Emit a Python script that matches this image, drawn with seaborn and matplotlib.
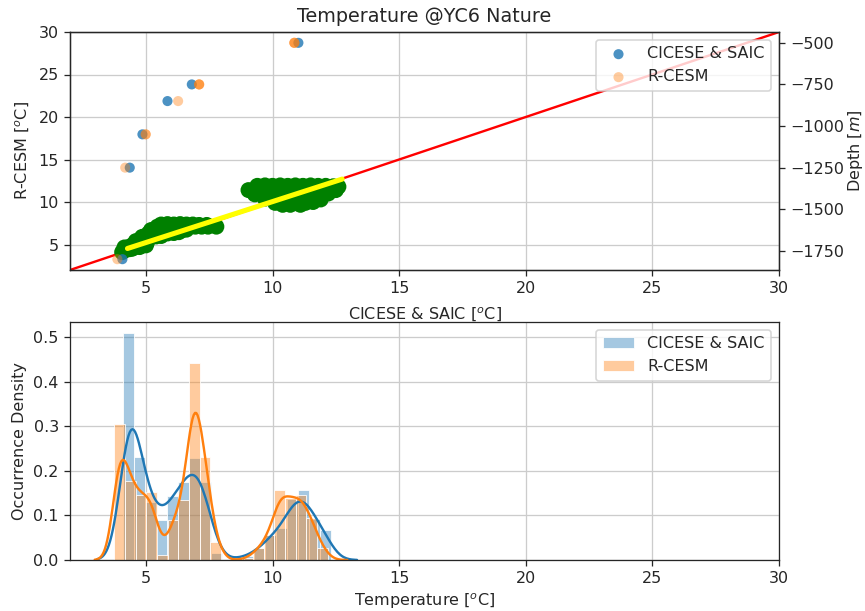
import numpy as np
import pandas as pd
import matplotlib
matplotlib.use("Agg")
import matplotlib.pyplot as plt
from matplotlib.ticker import MultipleLocator
import seaborn as sns

# ---------------- data ----------------
depth = [-500, -750, -850, -1050, -1250, -1800]
cicese_profile = [11.02, 6.81, 5.85, 4.86, 4.36, 4.07]
rcesm_profile = [10.86, 7.10, 6.27, 4.99, 4.18, 3.87]
rcesm_repeat = [3, 3, 1, 2, 1, 1]

# paired samples (green cloud), read row by row
pair_x = [
    # upper cluster
    9.4, 9.7, 10.0, 10.3, 10.6, 10.9, 11.2, 11.5, 11.8, 12.1, 12.4, 12.6,
    9.05, 9.35, 9.65, 9.95, 10.25, 10.55, 10.85, 11.15, 11.45, 11.75, 12.05, 12.3, 12.5,
    9.3, 9.6, 9.9, 10.2, 10.5, 10.8, 11.1, 11.4, 11.7, 12.0, 12.2,
    9.7, 10.0, 10.3, 10.6, 10.9, 11.2, 11.5, 11.9,
    10.1, 10.4, 10.7, 11.0, 11.3, 11.6,
    10.4, 10.7, 11.1,
    # lower cluster
    5.6, 5.85, 6.1, 6.35, 6.6, 6.85, 7.1, 7.4,
    5.45, 5.7, 5.95, 6.2, 6.45, 6.7, 6.95, 7.2, 7.45, 7.78,
    5.2, 5.45, 5.7, 5.95, 6.2, 6.45, 6.6,
    5.1, 5.35, 5.6, 5.85, 6.1, 6.3,
    5.0, 5.2, 5.4, 5.6,
    4.06, 4.2, 4.35, 4.35, 4.5, 4.5, 4.7, 4.7, 4.9, 4.9, 5.05, 5.05,
    4.15, 4.45, 4.75, 5.0, 4.85, 4.6,
]
pair_y = [
    11.9, 11.95, 11.9, 11.95, 11.9, 11.95, 11.9, 11.95, 11.9, 11.9, 11.85, 11.8,
    11.4, 11.4, 11.4, 11.4, 11.4, 11.4, 11.4, 11.4, 11.4, 11.4, 11.4, 11.4, 11.4,
    10.9, 10.9, 10.9, 10.9, 10.9, 10.9, 10.9, 10.9, 10.9, 10.9, 11.0,
    10.4, 10.4, 10.4, 10.4, 10.4, 10.4, 10.4, 10.3,
    9.9, 9.9, 9.9, 9.85, 9.9, 10.0,
    9.67, 9.67, 9.67,
    7.35, 7.4, 7.35, 7.4, 7.35, 7.35, 7.3, 7.3,
    7.1, 7.1, 7.1, 7.1, 7.1, 7.1, 7.1, 7.1, 7.1, 7.1,
    6.7, 6.7, 6.7, 6.7, 6.7, 6.7, 6.75,
    6.3, 6.3, 6.3, 6.3, 6.35, 6.45,
    5.95, 5.95, 5.95, 6.0,
    4.1, 4.35, 4.45, 4.75, 4.6, 5.0, 4.8, 5.2, 4.95, 5.5, 5.3, 5.8,
    4.65, 4.5, 4.7, 4.9, 5.9, 5.4,
]

# linear fit of the pairs
fit_slope = 0.963
fit_intercept = 0.418
fit_range = [4.27, 12.75]

# histograms (density per bin)
cicese_bin_start, cicese_bin_width = 4.10, 0.432
cicese_density = [0.51, 0.231, 0.13, 0.09, 0.145, 0.175, 0.23, 0.175, 0.015, 0.0,
                  0.004, 0.01, 0.026, 0.056, 0.071, 0.138, 0.158, 0.093, 0.067]
rcesm_bin_start, rcesm_bin_width = 3.75, 0.4215
rcesm_density = [0.304, 0.177, 0.145, 0.152, 0.011, 0.09, 0.134, 0.44, 0.23, 0.041,
                 0.0, 0.0, 0.004, 0.026, 0.056, 0.156, 0.138, 0.145, 0.093, 0.027]
kde_bw = {"CICESE & SAIC": 0.38, "R-CESM": 0.28}

# ---------------- style ----------------
sns.set_style("ticks", {"axes.grid": True, "grid.color": ".8"})
plt.rcParams["font.family"] = ["DejaVu Sans"]
plt.rcParams["font.size"] = 10
C0, C1 = "#1f77b4", "#ff7f0e"

DPI = 115
fig = plt.figure(figsize=(865/DPI, 611/DPI), dpi=DPI)
ax1 = fig.add_axes([70/865, 1-270/611, 709/865, 238/611])
ax2 = fig.add_axes([70/865, 1-560/611, 709/865, 238/611])

# ---- top panel ----
ax1.plot([2, 30], [2, 30], color="red", lw=1.5, zorder=1)
pairs = pd.DataFrame({"x": pair_x, "y": pair_y})
sns.scatterplot(data=pairs, x="x", y="y", ax=ax1, color="green", s=100,
                edgecolor="none", zorder=2, legend=False)
fx = np.array(fit_range)
sns.lineplot(x=fx, y=fit_slope*fx + fit_intercept, ax=ax1, color="yellow", lw=3.2, zorder=3)
ax1.set_xlim(2, 30)
ax1.set_ylim(2, 30)
ax1.set_xlabel("CICESE & SAIC [$^o$C]", fontsize=10, labelpad=6)
ax1.set_ylabel("R-CESM [$^o$C]", fontsize=10)
ax1.set_title("Temperature @YC6 Nature", fontsize=12, pad=6.5)

ax1b = ax1.twinx()
ax1b.grid(False)
prof = pd.DataFrame({"t": cicese_profile, "d": depth})
sns.scatterplot(data=prof, x="t", y="d", ax=ax1b, color=C0, alpha=0.8, s=40,
                edgecolor="none", label="CICESE & SAIC")
rprof = pd.DataFrame({"t": np.repeat(rcesm_profile, rcesm_repeat),
                      "d": np.repeat(depth, rcesm_repeat)})
sns.scatterplot(data=rprof, x="t", y="d", ax=ax1b, color=C1, alpha=0.4, s=40,
                edgecolor="none", label="R-CESM")
ax1b.set_ylabel("Depth [$m$]", fontsize=10, labelpad=1)
ax1b.set_xlim(2, 30)
ax1b.yaxis.set_major_locator(MultipleLocator(250))
ax1b.legend(loc="upper right", fontsize=10)

# ---- bottom panel ----
for name, start, width, dens, col in [("CICESE & SAIC", cicese_bin_start, cicese_bin_width, cicese_density, C0),
                                      ("R-CESM", rcesm_bin_start, rcesm_bin_width, rcesm_density, C1)]:
    edges = start + width*np.arange(len(dens)+1)
    centers = 0.5*(edges[:-1] + edges[1:])
    hist_df = pd.DataFrame({"t": centers, "w": dens})
    sns.histplot(data=hist_df, x="t", weights="w", bins=[float(e) for e in edges],
                 stat="density", ax=ax2, color=col, alpha=0.4, edgecolor="white",
                 linewidth=0.5, label=name)
    w = np.array(dens)
    mean = np.sum(w*centers)/w.sum()
    sd = np.sqrt(np.sum(w*(centers-mean)**2)/w.sum())
    sns.kdeplot(data=hist_df, x="t", weights="w", bw_method=kde_bw[name]/sd, ax=ax2,
                color=col, lw=1.5, cut=3.5)
ax2.set_xlim(2, 30)
ax2.set_xlabel("Temperature [$^o$C]", fontsize=10, labelpad=3.5)
ax2.set_ylabel("Occurrence Density", fontsize=10)
ax2.legend(loc="upper right", fontsize=10)

fig.savefig("out.png", dpi=DPI)
